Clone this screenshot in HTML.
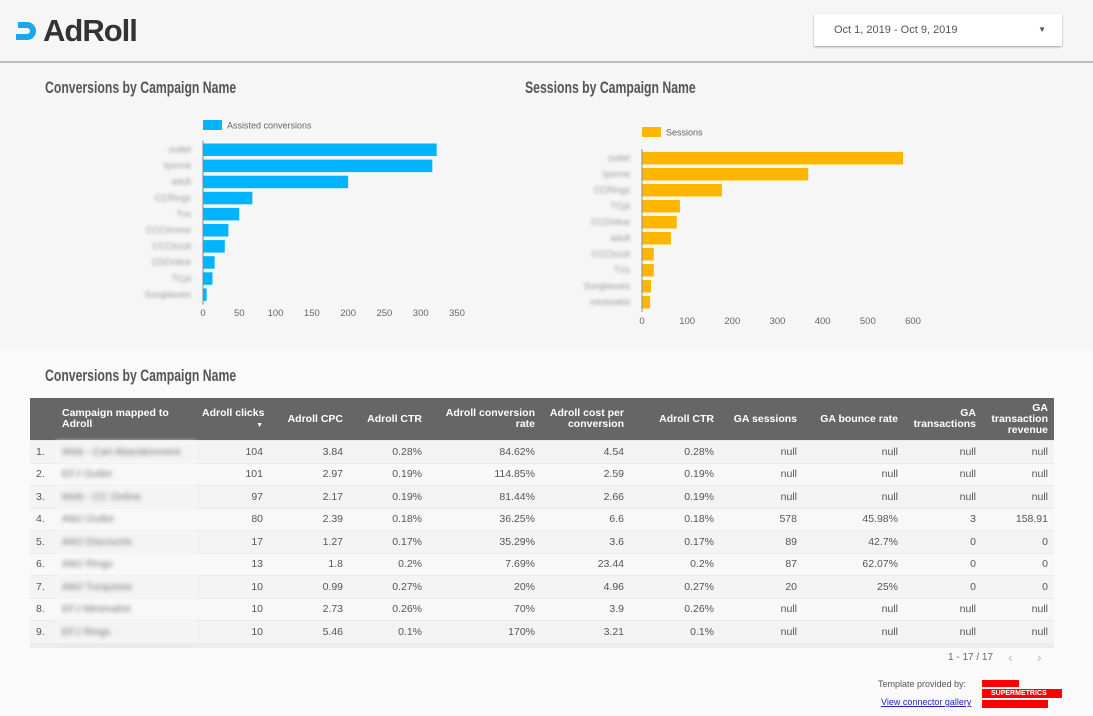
<!DOCTYPE html>
<html><head><meta charset="utf-8"><style>
body{margin:0;width:1093px;height:716px;overflow:hidden;background:#fafafa;font-family:"Liberation Sans",sans-serif;position:relative}
.abs{position:absolute}
.title{font-family:"Liberation Sans Narrow","Liberation Sans",sans-serif;font-weight:bold;font-size:17px;color:#555;transform:scaleX(0.72);transform-origin:left top}
table{border-collapse:collapse;font-size:10.5px;color:#555;table-layout:fixed}
th{background:#666;color:#fff;font-weight:bold;font-size:10.5px;text-align:right;padding:0 6px;line-height:11px;height:42px;vertical-align:middle;white-space:nowrap;overflow:visible}
td{height:22.5px;padding:0 6px;text-align:right;border-top:1px solid #eaeaea;box-sizing:border-box;white-space:nowrap;overflow:hidden}
tr:nth-child(even) td{background:#f3f3f3}
tr:nth-child(odd) td{background:#f8f8f8}
.blur{color:#777;filter:blur(2px);text-align:left}
</style></head><body>
<div class="abs" style="left:0;top:0;width:1093px;height:350px;background:#f6f6f6"></div>
<div class="abs" style="left:0;top:61px;width:1093px;height:2px;background:#bbb"></div>
<div class="abs" style="left:14px;top:15px;height:32px;display:flex;align-items:center">
<svg width="26" height="26" viewBox="0 0 26 26"><path d="M4 4 H13 A8 8 0 0 1 13 22 H2 V16 H13 A2 2 0 0 0 13 10 H4Z" fill="#1aa7ec"/></svg>
<span style="font-size:31px;font-weight:bold;color:#333;margin-left:3px;letter-spacing:-1px">AdRoll</span></div>
<div class="abs" style="left:814px;top:14px;width:248px;height:32px;background:#fff;box-shadow:0 1px 2px rgba(0,0,0,.35);font-size:11px;color:#555;line-height:32px"><span style="margin-left:20px">Oct 1, 2019 - Oct 9, 2019</span><span style="position:absolute;right:16px;font-size:8px">▼</span></div>
<div class="abs title" style="left:45px;top:78px">Conversions by Campaign Name</div>
<div class="abs title" style="left:525px;top:78px">Sessions by Campaign Name</div>
<div class="abs title" style="left:45px;top:366px">Conversions by Campaign Name</div>
<svg class="abs" id="charts" style="left:0;top:0" width="1093" height="350" font-family="Liberation Sans, sans-serif"></svg>
<script>
const convCats=["outlet","tyonne","adult","CCRings","Tvs","CCChrome","CCCircuit","CDOnline","TCpt","Sunglasses"];
const convVals=[322,316,200,68,50,35,30,16,13,5];
const convTicks=[0,50,100,150,200,250,300,350];
const sessCats=["outlet","tyonne","CCRings","TCpt","CCOnline","adult","CCCircuit","TVs","Sunglasses","minimalist"];
const sessVals=[578,368,177,84,77,64,26,26,20,18];
const sessTicks=[0,100,200,300,400,500,600];
const NS="http://www.w3.org/2000/svg";
const svg=document.getElementById('charts');
function mk(t,a){const e=document.createElementNS(NS,t);for(const k in a)e.setAttribute(k,a[k]);svg.appendChild(e);return e;}
function chart(name,cats,vals,ticks,x0,x1,max,y0,pitch,color,legY,legText,tickY){
  const sx=v=>x0+(v/max)*(x1-x0);
  const lg=mk('rect',{x:x0,y:legY-5,width:19,height:10,fill:color});
  
  const lt=mk('text',{x:x0+24,y:legY+3.5,'font-size':9,fill:'#666'});lt.textContent=legText;
  
  vals.forEach((v,i)=>{
    const r=mk('rect',{x:x0,y:y0+i*pitch,width:sx(v)-x0,height:12.5,fill:color});
    
    const t=mk('text',{x:x0-12,y:y0+i*pitch+9,'font-size':9,fill:'#999','text-anchor':'end',style:'filter:blur(1.6px)'});t.textContent=cats[i];
    
  });
  const ax=mk('line',{x1:x0,x2:x0,y1:y0-3,y2:y0+vals.length*pitch,stroke:'#888','stroke-width':1});
  
  ticks.forEach(t=>{const e=mk('text',{x:sx(t),y:tickY,'font-size':9.5,fill:'#666','text-anchor':'middle'});e.textContent=t;
    });
}
chart('conversions',convCats,convVals,convTicks,203,457,350,143.5,16.1,'#00b4ff',125,'Assisted conversions',316);
chart('sessions',sessCats,sessVals,sessTicks,642,913,600,152,16,'#ffb600',132,'Sessions',324);
</script>
<div class="abs" style="left:30px;top:398px;width:1024px;height:245px;overflow:hidden">
<table style="width:1024px">
<colgroup><col style="width:26px"><col style="width:140px"><col style="width:73px"><col style="width:80px"><col style="width:79px"><col style="width:113px"><col style="width:89px"><col style="width:90px"><col style="width:83px"><col style="width:101px"><col style="width:78px"><col style="width:72px"></colgroup>
<tr><th></th><th style="text-align:left">Campaign mapped to<br>Adroll</th><th>Adroll clicks<br><span style="font-size:7px">▼</span></th><th>Adroll CPC</th><th>Adroll CTR</th><th>Adroll conversion<br>rate</th><th>Adroll cost per<br>conversion</th><th>Adroll CTR</th><th>GA sessions</th><th>GA bounce rate</th><th>GA<br>transactions</th><th style="padding-right:6px">GA<br>transaction<br>revenue</th></tr>
<tr><td style="text-align:left">1.</td><td class="blur">Web - Cart Abandonment</td><td>104</td><td>3.84</td><td>0.28%</td><td>84.62%</td><td>4.54</td><td>0.28%</td><td>null</td><td>null</td><td>null</td><td>null</td></tr>
<tr><td style="text-align:left">2.</td><td class="blur">EFJ Outlet</td><td>101</td><td>2.97</td><td>0.19%</td><td>114.85%</td><td>2.59</td><td>0.19%</td><td>null</td><td>null</td><td>null</td><td>null</td></tr>
<tr><td style="text-align:left">3.</td><td class="blur">Web - CC Online</td><td>97</td><td>2.17</td><td>0.19%</td><td>81.44%</td><td>2.66</td><td>0.19%</td><td>null</td><td>null</td><td>null</td><td>null</td></tr>
<tr><td style="text-align:left">4.</td><td class="blur">AMJ Outlet</td><td>80</td><td>2.39</td><td>0.18%</td><td>36.25%</td><td>6.6</td><td>0.18%</td><td>578</td><td>45.98%</td><td>3</td><td>158.91</td></tr>
<tr><td style="text-align:left">5.</td><td class="blur">AMJ Discounts</td><td>17</td><td>1.27</td><td>0.17%</td><td>35.29%</td><td>3.6</td><td>0.17%</td><td>89</td><td>42.7%</td><td>0</td><td>0</td></tr>
<tr><td style="text-align:left">6.</td><td class="blur">AMJ Rings</td><td>13</td><td>1.8</td><td>0.2%</td><td>7.69%</td><td>23.44</td><td>0.2%</td><td>87</td><td>62.07%</td><td>0</td><td>0</td></tr>
<tr><td style="text-align:left">7.</td><td class="blur">AMJ Turquoise</td><td>10</td><td>0.99</td><td>0.27%</td><td>20%</td><td>4.96</td><td>0.27%</td><td>20</td><td>25%</td><td>0</td><td>0</td></tr>
<tr><td style="text-align:left">8.</td><td class="blur">EFJ Minimalist</td><td>10</td><td>2.73</td><td>0.26%</td><td>70%</td><td>3.9</td><td>0.26%</td><td>null</td><td>null</td><td>null</td><td>null</td></tr>
<tr><td style="text-align:left">9.</td><td class="blur">EFJ Rings</td><td>10</td><td>5.46</td><td>0.1%</td><td>170%</td><td>3.21</td><td>0.1%</td><td>null</td><td>null</td><td>null</td><td>null</td></tr>
<tr><td style="text-align:left">10.</td><td class="blur">EFJ Sale</td><td>9</td><td>1.1</td><td>0.1%</td><td>10%</td><td>3</td><td>0.1%</td><td>null</td><td>null</td><td>null</td><td>null</td></tr>
</table></div>
<div class="abs" style="left:30px;top:643px;width:1024px;height:5px;background:#ececec"></div>
<div class="abs" style="left:948px;top:652px;font-size:10px;color:#666">1 - 17 / 17</div>
<div class="abs" style="left:1008px;top:649px;font-size:14px;color:#bbb">‹</div>
<div class="abs" style="left:1037px;top:649px;font-size:14px;color:#bbb">›</div>
<div class="abs" style="left:878px;top:679px;font-size:9px;color:#555">Template provided by:</div>
<a class="abs" style="left:881px;top:697px;font-size:9px;color:#22c;text-decoration:underline">View connector gallery</a>
<div class="abs" style="left:982px;top:680px;width:80px;height:28px">
<div style="position:absolute;left:0;top:0;width:37px;height:7px;background:#f00"></div>
<div style="position:absolute;left:0;top:9px;width:80px;height:9px;background:#f00;color:#fff;font-size:7px;font-weight:bold;line-height:9px;padding-left:9px;box-sizing:border-box">SUPERMETRICS</div>
<div style="position:absolute;left:0;top:20px;width:66px;height:8px;background:#f00"></div></div>
</body></html>
